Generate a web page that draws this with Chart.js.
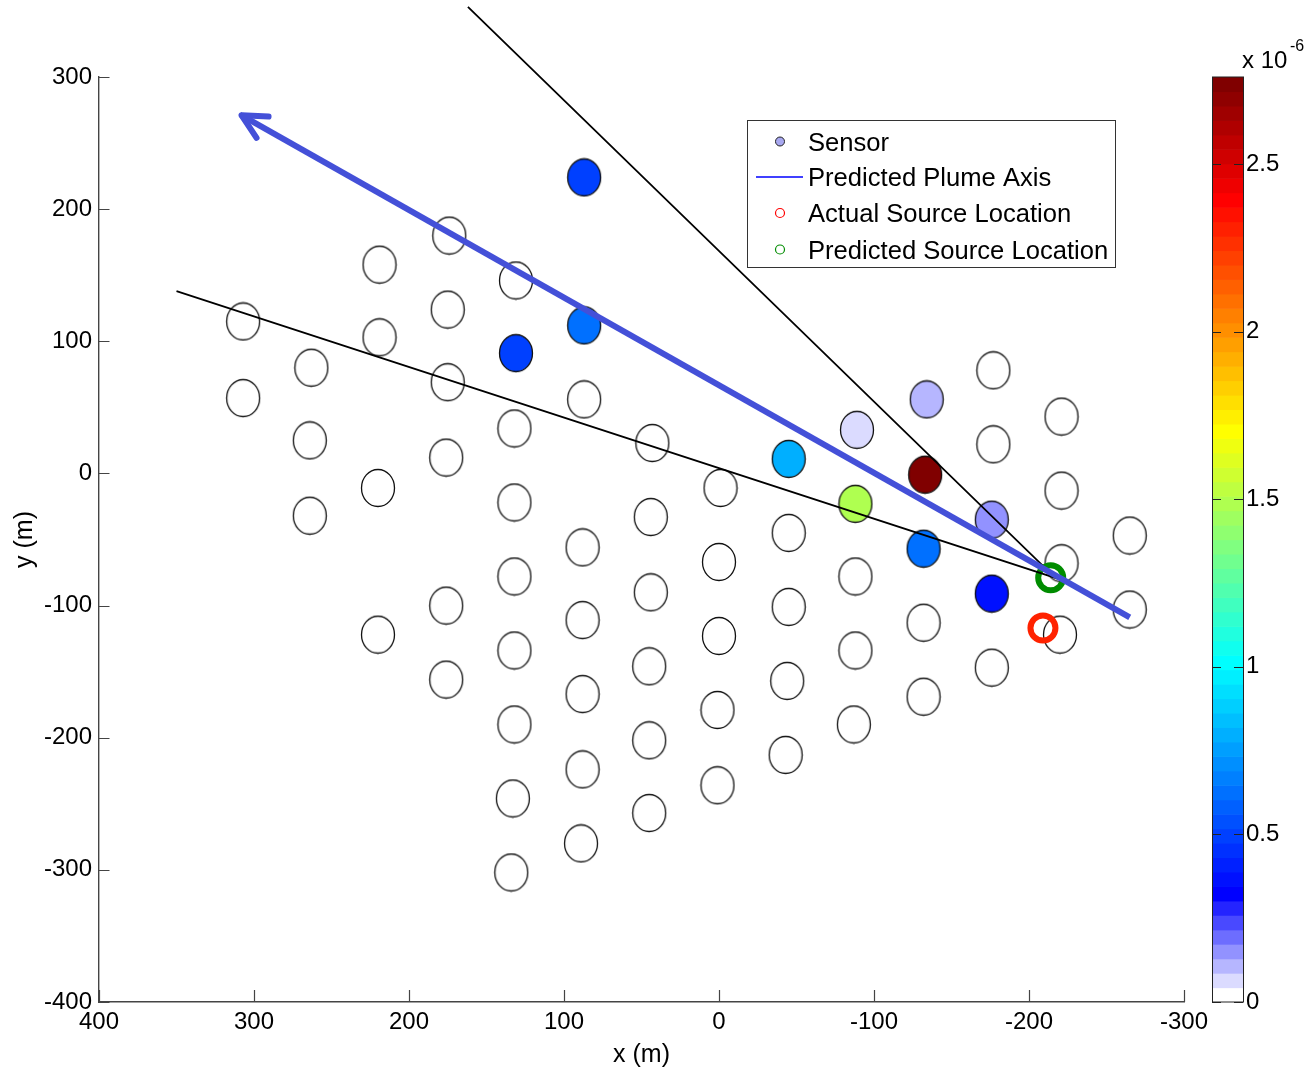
<!DOCTYPE html>
<html>
<head>
<meta charset="utf-8">
<script src="https://cdn.jsdelivr.net/npm/chart.js@4.4.1/dist/chart.umd.min.js"></script>
<style>
  html, body { margin: 0; padding: 0; background: #fff; }
</style>
</head>
<body>
<canvas id="plume" width="1305" height="1071"></canvas>
<script>
// sensor positions (m) and measured concentration (x 1e-6)
const sensorX = [307, 307,
  263, 264, 264,
  219, 219, 220, 220,
  174, 175, 175, 176, 176, 176,
  131, 131, 132, 132, 132, 132, 132, 133, 134,
  87, 87, 87, 88, 88, 88, 88, 89,
  43, 44, 44, 45, 45, 45,
  -1, 0, 0, 1, 1,
  -45, -45, -45, -44, -43,
  -89, -88, -88, -88, -87,
  -134, -133, -132, -132, -132,
  -177, -177, -176, -176, -176,
  -221, -221, -221, -220,
  -265, -265];
const sensorY = [115, 57,
  80, 25, -32,
  158, 103, -11, -122,
  180, 124, 69, 12, -100, -156,
  146, 91, 34, -22, -78, -134, -190, -246, -302,
  224, 112, 56, -56, -111, -167, -224, -280,
  23, -33, -90, -146, -202, -257,
  -11, -67, -123, -179, -236,
  11, -45, -101, -157, -213,
  33, -23, -78, -134, -190,
  56, -1, -57, -113, -169,
  78, 22, -35, -91, -147,
  43, -13, -68, -122,
  -47, -103];
const sensorConc = [0, 0,
  0, 0, 0,
  0, 0, 0, 0,
  0, 0, 0, 0, 0, 0,
  0, 0.50, 0, 0, 0, 0, 0, 0, 0,
  0.49, 0.62, 0, 0, 0, 0, 0, 0,
  0, 0, 0, 0, 0, 0,
  0, 0, 0, 0, 0,
  0.80, 0, 0, 0, 0,
  0.065, 1.49, 0, 0, 0,
  0.11, 2.75, 0.62, 0, 0,
  0, 0, 0.15, 0.37, 0,
  0, 0, 0, 0,
  0, 0];

const actualSource = [-209, -117];
const predictedSource = [-214, -79];
const plumeAxisX = [-265, 308];
const plumeAxisY = [-109, 271];
const coneApex = [-217, -79];
const coneUpper = [162, 353];
const coneLower = [350, 138];

const cbMax = 2.76;
const cbTicks = [0, 0.5, 1, 1.5, 2, 2.5];

const FONT = '"Liberation Sans", Arial, sans-serif';
const AXIS_COLOR = '#444';

// white->blue for the lowest levels, then jet
function levelColor(k) {
  if (k < 7) {
    const t = Math.round(255 * (1 - k / 7));
    return 'rgb(' + t + ',' + t + ',255)';
  }
  const x = (k + 1) / 64;
  const c = v => Math.round(255 * Math.max(0, Math.min(1, v)));
  return 'rgb(' + c(1.5 - Math.abs(4 * x - 3)) + ',' + c(1.5 - Math.abs(4 * x - 2)) + ',' + c(1.5 - Math.abs(4 * x - 1)) + ')';
}
function concColor(v) {
  return levelColor(Math.min(63, Math.floor(v / cbMax * 64)));
}

const markerCache = {};
function sensorMarker(fill) {
  if (!markerCache[fill]) {
    const c = document.createElement('canvas');
    c.width = 36; c.height = 40;
    const g = c.getContext('2d');
    g.beginPath();
    g.ellipse(18, 20, 16.5, 18.5, 0, 0, 2 * Math.PI);
    g.fillStyle = fill;
    g.fill();
    g.lineWidth = 1.3;
    g.strokeStyle = '#111';
    g.stroke();
    markerCache[fill] = c;
  }
  return markerCache[fill];
}

const pts = (xs, ys) => xs.map((x, i) => ({x: x, y: ys[i]}));

const extras = {
  id: 'extras',
  afterDatasetsDraw(chart) {
    const ctx = chart.ctx;
    const xs = chart.scales.x, ys = chart.scales.y;
    // arrow head on plume axis
    const tx = xs.getPixelForValue(plumeAxisX[1]), ty = ys.getPixelForValue(plumeAxisY[1]);
    const sx = xs.getPixelForValue(plumeAxisX[0]), sy = ys.getPixelForValue(plumeAxisY[0]);
    const ang = Math.atan2(sy - ty, sx - tx);
    ctx.save();
    ctx.strokeStyle = '#4450d8';
    ctx.lineWidth = 6;
    ctx.lineCap = 'round';
    ctx.beginPath();
    [-0.47, 0.47].forEach(d => {
      ctx.moveTo(tx, ty);
      ctx.lineTo(tx + 27 * Math.cos(ang + d), ty + 27 * Math.sin(ang + d));
    });
    ctx.stroke();
    ctx.restore();
  },
  afterDraw(chart) {
    const ctx = chart.ctx;
    const xs = chart.scales.x, ys = chart.scales.y, cb = chart.scales.cb;
    const area = chart.chartArea;
    ctx.save();
    // inward tick marks
    ctx.strokeStyle = AXIS_COLOR;
    ctx.lineWidth = 1.2;
    ctx.beginPath();
    xs.ticks.forEach(t => {
      const p = Math.round(xs.getPixelForValue(t.value)) + 0.5;
      ctx.moveTo(p, area.bottom);
      ctx.lineTo(p, area.bottom - 12);
    });
    ys.ticks.forEach(t => {
      const p = Math.round(ys.getPixelForValue(t.value)) + 0.5;
      ctx.moveTo(area.left, p);
      ctx.lineTo(area.left + 10.5, p);
    });
    ctx.stroke();

    // colorbar
    const cx0 = 1212, cx1 = 1243;
    for (let k = 0; k < 64; k++) {
      const y0 = cb.getPixelForValue(k / 64 * cbMax);
      const y1 = cb.getPixelForValue((k + 1) / 64 * cbMax);
      ctx.fillStyle = levelColor(k);
      ctx.fillRect(cx0, y1, cx1 - cx0, y0 - y1 + 0.6);
    }
    const cTop = cb.getPixelForValue(cbMax), cBot = cb.getPixelForValue(0);
    ctx.strokeStyle = '#222';
    ctx.lineWidth = 1;
    ctx.strokeRect(cx0 + 0.5, cTop, cx1 - cx0, cBot - cTop);
    ctx.beginPath();
    cbTicks.forEach(v => {
      const p = Math.round(cb.getPixelForValue(v)) + 0.5;
      ctx.moveTo(cx0, p); ctx.lineTo(cx0 + 9, p);
      ctx.moveTo(cx1, p); ctx.lineTo(cx1 - 9, p);
    });
    ctx.stroke();
    ctx.fillStyle = '#000';
    ctx.textBaseline = 'alphabetic';
    ctx.textAlign = 'left';
    ctx.font = '24px ' + FONT;
    ctx.fillText('x 10', 1242, 68);
    ctx.font = '16px ' + FONT;
    ctx.fillText('-6', 1290, 51);

    // legend
    const lx = 747, ly = 120;
    ctx.fillStyle = '#fff';
    ctx.fillRect(lx, ly, 369, 147);
    ctx.strokeStyle = '#333';
    ctx.lineWidth = 1;
    ctx.strokeRect(lx + 0.5, ly + 0.5, 368, 147);
    const rows = [141.5, 177, 213, 249.5];
    const labels = chart.data.datasets.map(d => d.label);
    ctx.font = '25.6px ' + FONT;
    ctx.textBaseline = 'middle';
    ctx.fillStyle = '#000';
    ctx.fillText(labels[4], 808, rows[0] + 2);
    ctx.fillText(labels[0], 808, rows[1] + 2);
    ctx.fillText(labels[3], 808, rows[2] + 2);
    ctx.fillText(labels[2], 808, rows[3] + 2);
    ctx.lineWidth = 1;
    ctx.beginPath();
    ctx.arc(780, rows[0], 4.5, 0, 2 * Math.PI);
    ctx.fillStyle = '#a8a8f0';
    ctx.fill();
    ctx.strokeStyle = '#222';
    ctx.stroke();
    ctx.beginPath();
    ctx.moveTo(756, rows[1]); ctx.lineTo(803, rows[1]);
    ctx.strokeStyle = '#0000ff';
    ctx.lineWidth = 1.3;
    ctx.stroke();
    ctx.lineWidth = 1.2;
    ctx.beginPath();
    ctx.arc(780, rows[2], 4.5, 0, 2 * Math.PI);
    ctx.strokeStyle = '#ff0000';
    ctx.stroke();
    ctx.beginPath();
    ctx.arc(780, rows[3], 4.5, 0, 2 * Math.PI);
    ctx.strokeStyle = '#008c00';
    ctx.stroke();
    ctx.restore();
  }
};

Chart.defaults.font.family = FONT;
Chart.defaults.color = '#000';

new Chart(document.getElementById('plume').getContext('2d'), {
  type: 'scatter',
  data: {
    datasets: [
      {
        label: 'Predicted Plume Axis',
        data: pts(plumeAxisX, plumeAxisY),
        showLine: true,
        borderColor: '#4450d8',
        borderWidth: 6,
        pointRadius: 0
      },
      {
        label: 'Plume Bounds',
        data: [{x: coneUpper[0], y: coneUpper[1]}, {x: coneApex[0], y: coneApex[1]}, {x: coneLower[0], y: coneLower[1]}],
        showLine: true,
        borderColor: '#000',
        borderWidth: 1.8,
        pointRadius: 0,
        clip: false
      },
      {
        label: 'Predicted Source Location',
        data: [{x: predictedSource[0], y: predictedSource[1]}],
        pointRadius: 12.5,
        pointBorderWidth: 6,
        pointBackgroundColor: 'rgba(0,0,0,0)',
        pointBorderColor: '#008c00'
      },
      {
        label: 'Actual Source Location',
        data: [{x: actualSource[0], y: actualSource[1]}],
        pointRadius: 12.5,
        pointBorderWidth: 6,
        pointBackgroundColor: 'rgba(0,0,0,0)',
        pointBorderColor: '#ff2200'
      },
      {
        label: 'Sensor',
        data: pts(sensorX, sensorY),
        pointRadius: 17,
        pointStyle: ctx => ctx.dataIndex === undefined ? 'circle' : sensorMarker(concColor(sensorConc[ctx.dataIndex]))
      }
    ]
  },
  options: {
    responsive: false,
    animation: false,
    events: [],
    layout: { padding: { top: 77, left: 0, right: 0, bottom: 0 } },
    plugins: {
      legend: { display: false },
      tooltip: { enabled: false }
    },
    scales: {
      x: {
        type: 'linear',
        reverse: true,
        min: -300,
        max: 400,
        grid: { display: false, drawTicks: false },
        border: { display: true, color: AXIS_COLOR, width: 1.4 },
        ticks: { stepSize: 100, padding: 6, font: { size: 24 }, maxRotation: 0 },
        title: { display: true, text: 'x (m)', font: { size: 25 }, padding: { top: 0, bottom: 1 } },
        afterFit: s => { s.height = 69; }
      },
      y: {
        type: 'linear',
        min: -400,
        max: 300,
        grid: { display: false, drawTicks: false },
        border: { display: true, color: AXIS_COLOR, width: 1.4 },
        ticks: { stepSize: 100, padding: 7, font: { size: 24 } },
        title: { display: true, text: 'y (m)', font: { size: 25 }, padding: { top: 10, bottom: 0 } },
        afterFit: s => { s.width = 99; }
      },
      cb: {
        type: 'linear',
        position: 'right',
        min: 0,
        max: cbMax,
        // invisible tick marks push the labels out to the right of the colour bar
        grid: { display: true, drawOnChartArea: false, drawTicks: true, tickLength: 58, color: 'rgba(0,0,0,0)' },
        border: { display: false },
        ticks: { stepSize: 0.5, includeBounds: false, padding: 4, font: { size: 24 }, callback: v => String(v) },
        afterFit: s => { s.width = 121; }
      }
    }
  },
  plugins: [extras]
});
</script>
</body>
</html>
